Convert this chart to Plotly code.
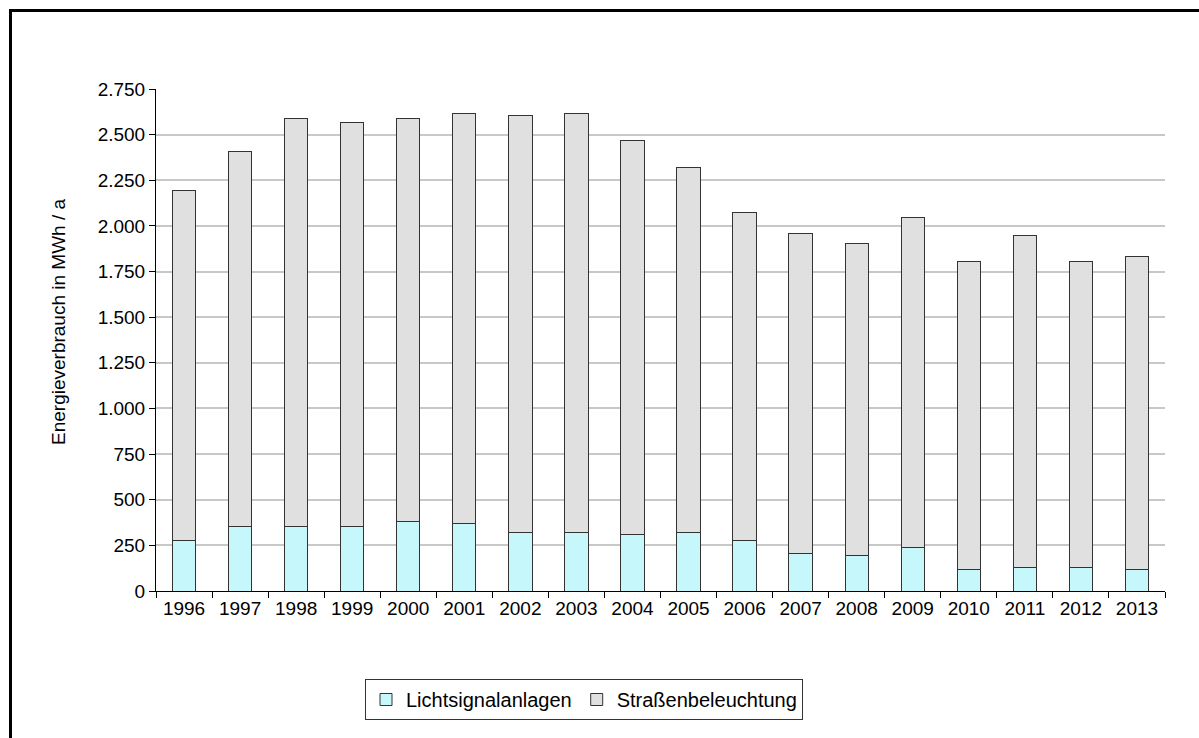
import plotly.graph_objects as go

years = ["1996", "1997", "1998", "1999", "2000", "2001", "2002", "2003", "2004",
         "2005", "2006", "2007", "2008", "2009", "2010", "2011", "2012", "2013"]
totals = [2195, 2406, 2586, 2564, 2586, 2617, 2607, 2617, 2469,
          2319, 2076, 1956, 1901, 2047, 1805, 1945, 1805, 1830]
licht = [275, 354, 354, 354, 383, 372, 321, 321, 308,
         321, 277, 204, 193, 237, 119, 128, 128, 119]
strasse = [t - l for t, l in zip(totals, licht)]

W, H = 1199, 738
L, R, T, B = 156, 1165, 89, 591


def px(x):
    return (x - L) / (R - L)


def py(y):
    return (B - y) / (B - T)


font = "Liberation Sans, Arial, sans-serif"

fig = go.Figure()
fig.add_trace(go.Bar(x=years, y=licht, name="Lichtsignalanlagen",
                     marker=dict(color="#C6F7FB", line=dict(color="#333333", width=1))))
fig.add_trace(go.Bar(x=years, y=strasse, name="Straßenbeleuchtung",
                     marker=dict(color="#E0E0E0", line=dict(color="#333333", width=1))))

border = dict(color="black", width=3)

fig.update_layout(
    barmode="stack",
    bargap=0.584,
    width=W, height=H,
    margin=dict(l=L, r=W - R, t=T, b=H - B),
    paper_bgcolor="white",
    plot_bgcolor="white",
    separators=",.",
    font=dict(family=font, size=19, color="black"),
    showlegend=True,
    legend=dict(orientation="h", x=px(584), xanchor="center", y=py(679), yanchor="top",
                bordercolor="#333333", borderwidth=1, font=dict(size=20),
                traceorder="normal", itemwidth=30, tracegroupgap=0),
    xaxis=dict(showline=True, linecolor="black", linewidth=1, ticks="outside",
               ticklen=6, tickcolor="black", tickson="boundaries",
               tickfont=dict(size=19), showgrid=False),
    yaxis=dict(range=[0, 2750], tickvals=list(range(0, 2751, 250)), tickformat=",d",
               showline=True, linecolor="black", linewidth=1, ticks="outside",
               ticklen=6, tickcolor="black", showgrid=True, gridcolor="#C8C8C8",
               gridwidth=1.5, zeroline=False, tickfont=dict(size=19)),
    annotations=[dict(text="Energieverbrauch in MWh / a", xref="paper", yref="paper",
                      x=px(58), y=py(322), xanchor="center", yanchor="middle",
                      textangle=-90, showarrow=False, font=dict(size=19))],
    shapes=[
        dict(type="line", xref="paper", yref="paper",
             x0=px(9), x1=px(1230), y0=py(10.5), y1=py(10.5), line=border, layer="below"),
        dict(type="line", xref="paper", yref="paper",
             x0=px(10.5), x1=px(10.5), y0=py(9), y1=py(760), line=border, layer="below"),
    ],
)

fig.write_html(
    "out.html",
    config={"displayModeBar": False},
    post_script="document.body.style.margin='0';document.body.style.overflow='hidden';",
)
